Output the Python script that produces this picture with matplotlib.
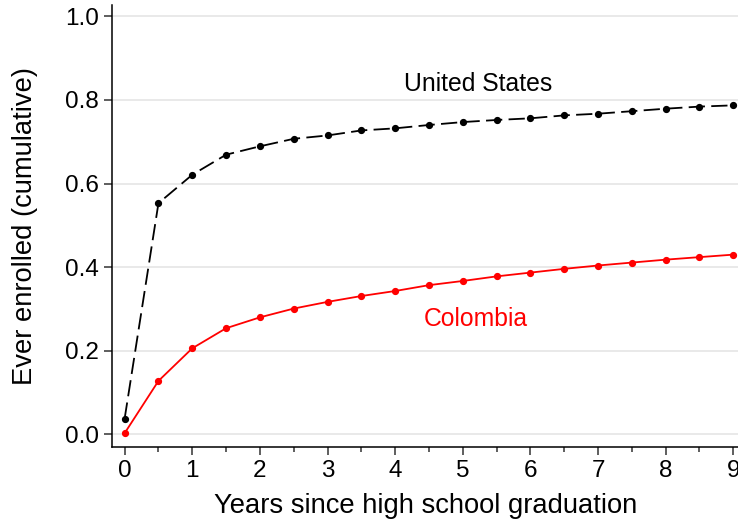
import matplotlib
matplotlib.use('Agg')
import matplotlib.pyplot as plt
import numpy as np

plt.rcParams['font.family'] = ['Liberation Sans', 'DejaVu Sans']

years = [0, 0.5, 1, 1.5, 2, 2.5, 3, 3.5, 4, 4.5, 5, 5.5, 6, 6.5, 7, 7.5, 8, 8.5, 9]
us = [0.038, 0.553, 0.621, 0.669, 0.689, 0.707, 0.715, 0.727, 0.732, 0.740,
      0.747, 0.752, 0.756, 0.763, 0.767, 0.773, 0.779, 0.784, 0.787]
colombia = [0.003, 0.128, 0.206, 0.254, 0.280, 0.301, 0.317, 0.331, 0.343, 0.357,
            0.367, 0.378, 0.387, 0.396, 0.404, 0.411, 0.418, 0.424, 0.430]

fig = plt.figure(figsize=(7.38, 5.25), dpi=100)
ax = fig.add_axes([0.1524, 0.1486, 0.8476, 0.8419])

for y in [0, 0.2, 0.4, 0.6, 0.8, 1.0]:
    ax.axhline(y, color='#e3e3e3', lw=1.1, zorder=0)

ax.plot(years, us, color='black', lw=1.3, dashes=(9, 3.5),
        marker='o', ms=4.2, zorder=3)
ax.plot(years, colombia, color='red', lw=1.3,
        marker='o', ms=4.2, zorder=3)

ax.text(5.23, 0.838, 'United States', fontsize=17.8, color='black',
        ha='center', va='center')
ax.text(5.2, 0.276, 'Colombia', fontsize=17.8, color='red',
        ha='center', va='center')

ax.set_xlim(-0.18, 9.07)
ax.set_ylim(-0.030, 1.027)
ax.set_xticks(range(10))
ax.set_xticks(np.arange(0.5, 9, 1), minor=True)
ax.set_yticks([0, 0.2, 0.4, 0.6, 0.8, 1.0])
ax.set_yticklabels(['0.0', '0.2', '0.4', '0.6', '0.8', '1.0'])

for s in ['top', 'right']:
    ax.spines[s].set_visible(False)
for s in ['left', 'bottom']:
    ax.spines[s].set_linewidth(1.1)

ax.tick_params(axis='both', which='major', labelsize=17.5, length=6, width=1.1,
               color='#333333')
ax.tick_params(axis='x', which='minor', length=3.5, width=1.1, color='#333333')
ax.tick_params(axis='y', pad=4)

ax.set_xlabel('Years since high school graduation', fontsize=19.7, labelpad=8)
ax.set_ylabel('Ever enrolled (cumulative)', fontsize=19.7)
ax.yaxis.set_label_coords(-0.119, 0.5)

fig.savefig('out.png', dpi=100)
